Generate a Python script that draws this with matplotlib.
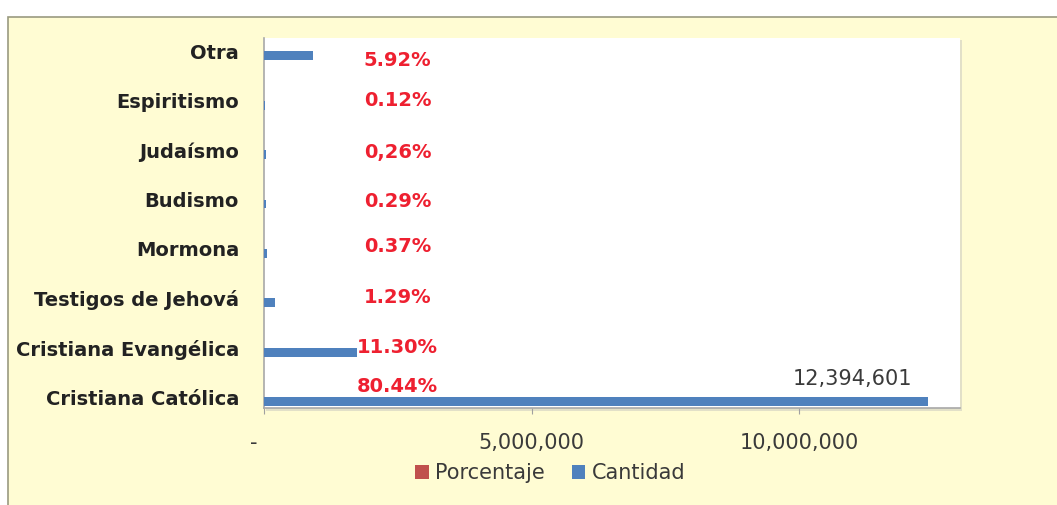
import matplotlib
matplotlib.use("Agg")
import matplotlib.pyplot as plt
from matplotlib.patches import Rectangle, Patch
from matplotlib.ticker import FixedLocator

# ── Data (bottom to top) ──────────────────────────────────
categories = ["Cristiana Católica", "Cristiana Evangélica", "Testigos de Jehová",
              "Mormona", "Budismo", "Judaísmo", "Espiritismo", "Otra"]
cantidad   = [12394601, 1741000, 199000, 57000, 44700, 40100, 18500, 912000]
porcentaje = [80.44, 11.30, 1.29, 0.37, 0.29, 0.26, 0.12, 5.92]
pct_labels = ["80.44%", "11.30%", "1.29%", "0.37%", "0.29%", "0,26%", "0.12%", "5.92%"]
x_ticks    = [0, 5000000, 10000000]
x_labels   = ["-   ", "5,000,000", "10,000,000"]

# label nudges (category units), as placed in the original
pct_dy = [0.22, 0.0, 0.02, 0.04, -0.04, -0.04, 0.0, -0.18]

BG      = "#FFFCD3"
BLUE    = "#4F81BD"
DARKRED = "#C0504D"
RED     = "#EE2030"
FONT    = "DejaVu Sans"

fig = plt.figure(figsize=(10.57, 5.05), dpi=100)
fig.patch.set_facecolor("white")
fig.patches.append(Rectangle((8 / 1057, -0.01), 1.0, 1 - 17 / 505 + 0.01,
                             transform=fig.transFigure, facecolor=BG,
                             edgecolor="#9A9A80", linewidth=1.2, zorder=-10))
# soft shadow of the plot area
fig.patches.append(Rectangle((266 / 1057, 1 - 411 / 505), (696) / 1057, (371) / 505,
                             transform=fig.transFigure, facecolor="#E2E0C8",
                             edgecolor="none", zorder=-5))

ax = fig.add_axes([264 / 1057, 1 - 408 / 505, (960 - 264) / 1057, (408 - 38) / 505])
ax.set_zorder(2)
ax.set_facecolor("white")

pos = list(range(len(categories)))
h = 0.18
ax.barh([p - 0.09 for p in pos], cantidad, height=h, color=BLUE, zorder=3)
ax.barh([p + 0.09 for p in pos], porcentaje, height=h, color=DARKRED, zorder=3)

ax.set_xlim(0, 13000000)
ax.set_ylim(-0.22, 7.27)

ax.set_yticks(pos)
ax.set_yticklabels(categories, fontsize=14, fontweight="bold", color="#222222",
                   family=FONT)
ax.tick_params(axis="y", length=0, pad=18)

ax.xaxis.set_major_locator(FixedLocator(x_ticks))
ax.set_xticklabels(x_labels, fontsize=15, color="#3A3A3A", family=FONT)
ax.tick_params(axis="x", length=4, color="#A0A0A0", pad=14)

for s in ["top", "right"]:
    ax.spines[s].set_visible(False)
ax.spines["left"].set_color("#A8A8A8")
ax.spines["bottom"].set_color("#A8A8A8")
ax.spines["left"].set_linewidth(1.2)
ax.spines["bottom"].set_linewidth(1.2)

# percent labels, moved to a common column in the original
for p, lab, dy in zip(pos, pct_labels, pct_dy):
    ax.text(0.192, p + dy, lab, transform=ax.get_yaxis_transform(),
            ha="center", va="center", fontsize=14, fontweight="bold",
            color=RED, family=FONT, zorder=5)

ax.text(cantidad[0] - 290000, 0.36, f"{cantidad[0]:,}", ha="right", va="center",
        fontsize=15, color="#3A3A3A", family=FONT, zorder=5)

handles = [Patch(facecolor=DARKRED, label="Porcentaje"),
           Patch(facecolor=BLUE, label="Cantidad")]
fig.legend(handles=handles, loc="center", bbox_to_anchor=(550 / 1057, 1 - 473 / 505),
           ncol=2, frameon=False, handlelength=0.65, handleheight=0.65,
           handletextpad=0.3, columnspacing=1.3,
           prop={"family": FONT, "size": 15})
for t in fig.legends[0].get_texts():
    t.set_color("#3A3A3A")

fig.savefig("out.png", dpi=100, facecolor=fig.get_facecolor())
